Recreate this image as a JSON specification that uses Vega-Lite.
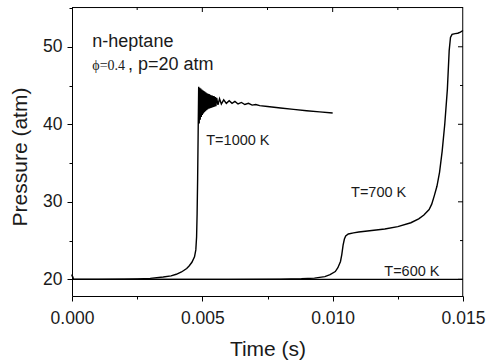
{
  "$schema": "https://vega.github.io/schema/vega-lite/v6.json",
  "width": 391,
  "height": 289,
  "autosize": {"type": "none"},
  "padding": {"left": 72, "top": 7, "right": 33, "bottom": 66},
  "background": "white",
  "config": {
    "view": {"stroke": null},
    "font": "Liberation Sans",
    "axis": {
      "grid": false,
      "domainColor": "black",
      "tickColor": "black",
      "labelColor": "#1a1a1a",
      "titleColor": "#1a1a1a",
      "labelFont": "Liberation Sans",
      "titleFont": "Liberation Sans",
      "labelFontSize": 17.5,
      "titleFontSize": 21,
      "titleFontWeight": "normal",
      "labelOverlap": false,
      "labelFlush": false
    }
  },
  "datasets": {
    "curves": [
      {"s": "600K", "t": 0, "p": 20},
      {"s": "600K", "t": 0.015, "p": 20},
      {"s": "1000K", "t": 0, "p": 20.6},
      {"s": "1000K", "t": 0.00005, "p": 20.0},
      {"s": "1000K", "t": 0.001, "p": 20.0},
      {"s": "1000K", "t": 0.002, "p": 20.03},
      {"s": "1000K", "t": 0.0025, "p": 20.06},
      {"s": "1000K", "t": 0.003, "p": 20.12},
      {"s": "1000K", "t": 0.0035, "p": 20.3},
      {"s": "1000K", "t": 0.0038, "p": 20.45},
      {"s": "1000K", "t": 0.004, "p": 20.65},
      {"s": "1000K", "t": 0.0042, "p": 20.95},
      {"s": "1000K", "t": 0.0044, "p": 21.4},
      {"s": "1000K", "t": 0.0045, "p": 21.75},
      {"s": "1000K", "t": 0.0046, "p": 22.2},
      {"s": "1000K", "t": 0.0047, "p": 22.9},
      {"s": "1000K", "t": 0.00475, "p": 23.8},
      {"s": "1000K", "t": 0.00478, "p": 25.5},
      {"s": "1000K", "t": 0.0048, "p": 28.5},
      {"s": "1000K", "t": 0.00482, "p": 33},
      {"s": "1000K", "t": 0.00484, "p": 39},
      {"s": "1000K", "t": 0.00486, "p": 44.85},
      {"s": "1000K", "t": 0.00488, "p": 40.1},
      {"s": "1000K", "t": 0.0049, "p": 44.7},
      {"s": "1000K", "t": 0.00492, "p": 40.6},
      {"s": "1000K", "t": 0.00494, "p": 44.6},
      {"s": "1000K", "t": 0.00496, "p": 40.95},
      {"s": "1000K", "t": 0.00498, "p": 44.5},
      {"s": "1000K", "t": 0.005, "p": 41.2},
      {"s": "1000K", "t": 0.00502, "p": 44.4},
      {"s": "1000K", "t": 0.00504, "p": 41.4},
      {"s": "1000K", "t": 0.00506, "p": 44.3},
      {"s": "1000K", "t": 0.00508, "p": 41.55},
      {"s": "1000K", "t": 0.0051, "p": 44.2},
      {"s": "1000K", "t": 0.00512, "p": 41.7},
      {"s": "1000K", "t": 0.00514, "p": 44.1},
      {"s": "1000K", "t": 0.00516, "p": 41.8},
      {"s": "1000K", "t": 0.00518, "p": 44.0},
      {"s": "1000K", "t": 0.0052, "p": 41.9},
      {"s": "1000K", "t": 0.00522, "p": 43.95},
      {"s": "1000K", "t": 0.00524, "p": 42.0},
      {"s": "1000K", "t": 0.00526, "p": 43.9},
      {"s": "1000K", "t": 0.00528, "p": 42.05},
      {"s": "1000K", "t": 0.0053, "p": 43.8},
      {"s": "1000K", "t": 0.00532, "p": 42.1},
      {"s": "1000K", "t": 0.00534, "p": 43.75},
      {"s": "1000K", "t": 0.00536, "p": 42.15},
      {"s": "1000K", "t": 0.00538, "p": 43.7},
      {"s": "1000K", "t": 0.0054, "p": 42.2},
      {"s": "1000K", "t": 0.00542, "p": 43.65},
      {"s": "1000K", "t": 0.00544, "p": 42.25},
      {"s": "1000K", "t": 0.00546, "p": 43.6},
      {"s": "1000K", "t": 0.00548, "p": 42.3},
      {"s": "1000K", "t": 0.0055, "p": 43.5},
      {"s": "1000K", "t": 0.00552, "p": 42.35},
      {"s": "1000K", "t": 0.00555, "p": 43.4},
      {"s": "1000K", "t": 0.0056, "p": 42.5},
      {"s": "1000K", "t": 0.00566, "p": 43.3},
      {"s": "1000K", "t": 0.00573, "p": 42.6},
      {"s": "1000K", "t": 0.00582, "p": 43.15},
      {"s": "1000K", "t": 0.00592, "p": 42.7},
      {"s": "1000K", "t": 0.00603, "p": 43.05},
      {"s": "1000K", "t": 0.00614, "p": 42.7},
      {"s": "1000K", "t": 0.00625, "p": 42.95},
      {"s": "1000K", "t": 0.00637, "p": 42.62},
      {"s": "1000K", "t": 0.0065, "p": 42.82},
      {"s": "1000K", "t": 0.00663, "p": 42.55},
      {"s": "1000K", "t": 0.00677, "p": 42.7},
      {"s": "1000K", "t": 0.00691, "p": 42.47},
      {"s": "1000K", "t": 0.00705, "p": 42.55},
      {"s": "1000K", "t": 0.0072, "p": 42.4},
      {"s": "1000K", "t": 0.0075, "p": 42.3},
      {"s": "1000K", "t": 0.008, "p": 42.1},
      {"s": "1000K", "t": 0.0085, "p": 41.92},
      {"s": "1000K", "t": 0.009, "p": 41.75},
      {"s": "1000K", "t": 0.0095, "p": 41.6},
      {"s": "1000K", "t": 0.01, "p": 41.45},
      {"s": "700K", "t": 0, "p": 20.6},
      {"s": "700K", "t": 0.00005, "p": 20.0},
      {"s": "700K", "t": 0.006, "p": 20.0},
      {"s": "700K", "t": 0.008, "p": 20.03},
      {"s": "700K", "t": 0.0088, "p": 20.08},
      {"s": "700K", "t": 0.0093, "p": 20.15},
      {"s": "700K", "t": 0.0097, "p": 20.35},
      {"s": "700K", "t": 0.0099, "p": 20.6},
      {"s": "700K", "t": 0.0101, "p": 21.0},
      {"s": "700K", "t": 0.0102, "p": 21.5},
      {"s": "700K", "t": 0.0103, "p": 22.3},
      {"s": "700K", "t": 0.01035, "p": 23.2},
      {"s": "700K", "t": 0.0104, "p": 24.4},
      {"s": "700K", "t": 0.01045, "p": 25.2},
      {"s": "700K", "t": 0.0105, "p": 25.6},
      {"s": "700K", "t": 0.0106, "p": 25.85},
      {"s": "700K", "t": 0.0108, "p": 26.0},
      {"s": "700K", "t": 0.011, "p": 26.1},
      {"s": "700K", "t": 0.0115, "p": 26.3},
      {"s": "700K", "t": 0.012, "p": 26.5},
      {"s": "700K", "t": 0.0125, "p": 26.8},
      {"s": "700K", "t": 0.013, "p": 27.3},
      {"s": "700K", "t": 0.0133, "p": 27.8},
      {"s": "700K", "t": 0.0135, "p": 28.3},
      {"s": "700K", "t": 0.0137, "p": 29.0},
      {"s": "700K", "t": 0.0138, "p": 29.7},
      {"s": "700K", "t": 0.0139, "p": 30.8},
      {"s": "700K", "t": 0.014, "p": 32.0},
      {"s": "700K", "t": 0.0141, "p": 33.8},
      {"s": "700K", "t": 0.0142, "p": 36.5},
      {"s": "700K", "t": 0.0143, "p": 40.0},
      {"s": "700K", "t": 0.0144, "p": 44.5},
      {"s": "700K", "t": 0.01447, "p": 49.5},
      {"s": "700K", "t": 0.01452, "p": 51.2},
      {"s": "700K", "t": 0.01458, "p": 51.6},
      {"s": "700K", "t": 0.0147, "p": 51.7},
      {"s": "700K", "t": 0.0148, "p": 51.75},
      {"s": "700K", "t": 0.0149, "p": 51.9},
      {"s": "700K", "t": 0.015, "p": 52.1}
    ],
    "labels": [
      {"text": "n-heptane", "t": 0.00078, "p": 50.0},
      {"text": "ϕ=0.4", "t": 0.00078, "p": 47.0},
      {"text": ", p=20 atm", "t": 0.00215, "p": 47.0},
      {"text": "T=1000 K", "t": 0.00515, "p": 37.33},
      {"text": "T=700 K", "t": 0.010705, "p": 30.58},
      {"text": "T=600 K", "t": 0.01198, "p": 20.43}
    ],
    "frame": [
      {"e": "top", "t": 0, "p": 55.06},
      {"e": "top", "t": 0.015, "p": 55.06},
      {"e": "right", "t": 0.01499, "p": 17.85},
      {"e": "right", "t": 0.01499, "p": 55.13}
    ],
    "xmajor": [{"t": 0.005}, {"t": 0.01}],
    "xminor": [{"t": 0.0025}, {"t": 0.0075}, {"t": 0.0125}],
    "ymajor": [{"p": 20}, {"p": 30}, {"p": 40}, {"p": 50}],
    "yminor": [{"p": 25}, {"p": 35}, {"p": 45}]
  },
  "resolve": {"axis": {"x": "independent", "y": "independent"}},
  "layer": [
    {
      "data": {"name": "curves"},
      "mark": {"type": "line", "color": "black", "strokeWidth": 1.4},
      "encoding": {
        "x": {
          "field": "t", "type": "quantitative",
          "scale": {"domain": [0, 0.015], "nice": false, "zero": false},
          "axis": {
            "orient": "bottom",
            "values": [0, 0.0025, 0.005, 0.0075, 0.01, 0.0125, 0.015],
            "labelExpr": "abs(datum.value*200 - round(datum.value*200)) < 1e-6 ? format(datum.value, '.3f') : ''",
            "tickSize": {"condition": {"test": "abs(datum.value*200 - round(datum.value*200)) < 1e-6", "value": 5}, "value": 3},
            "labelBaseline": "alphabetic",
            "labelPadding": 22,
            "title": "Time (s)",
            "titleBaseline": "alphabetic",
            "titleY": 59
          }
        },
        "y": {
          "field": "p", "type": "quantitative",
          "scale": {"domain": [17.85, 55.13], "nice": false, "zero": false},
          "axis": {
            "orient": "left",
            "values": [20, 25, 30, 35, 40, 45, 50, 55],
            "labelExpr": "datum.value % 10 === 0 ? datum.label : ''",
            "tickSize": {"condition": {"test": "datum.value % 10 === 0", "value": 5}, "value": 3},
            "labelPadding": 5,
            "title": "Pressure (atm)",
            "titleAngle": -90,
            "titleBaseline": "alphabetic",
            "titleAlign": "center",
            "titleX": -45.5,
            "titleY": 149.5
          }
        },
        "detail": {"field": "s"}
      }
    },
    {
      "data": {"name": "frame"},
      "mark": {"type": "line", "color": "black", "strokeWidth": 1},
      "encoding": {
        "x": {"field": "t", "type": "quantitative", "axis": null},
        "y": {"field": "p", "type": "quantitative", "axis": null},
        "detail": {"field": "e"},
        "order": {"field": "p"}
      }
    },
    {
      "data": {"name": "xmajor"},
      "mark": {"type": "tick", "color": "black", "orient": "vertical", "thickness": 1, "size": 5, "yOffset": 2.5, "opacity": 1},
      "encoding": {
        "x": {"field": "t", "type": "quantitative", "axis": null},
        "y": {"datum": 55.13, "type": "quantitative", "axis": null}
      }
    },
    {
      "data": {"name": "xminor"},
      "mark": {"type": "tick", "color": "black", "orient": "vertical", "thickness": 1, "size": 3, "yOffset": 1.5, "opacity": 1},
      "encoding": {
        "x": {"field": "t", "type": "quantitative", "axis": null},
        "y": {"datum": 55.13, "type": "quantitative", "axis": null}
      }
    },
    {
      "data": {"name": "ymajor"},
      "mark": {"type": "tick", "color": "black", "orient": "horizontal", "thickness": 1, "size": 5, "xOffset": -2.5, "opacity": 1},
      "encoding": {
        "y": {"field": "p", "type": "quantitative", "axis": null},
        "x": {"datum": 0.015, "type": "quantitative", "axis": null}
      }
    },
    {
      "data": {"name": "yminor"},
      "mark": {"type": "tick", "color": "black", "orient": "horizontal", "thickness": 1, "size": 3, "xOffset": -1.5, "opacity": 1},
      "encoding": {
        "y": {"field": "p", "type": "quantitative", "axis": null},
        "x": {"datum": 0.015, "type": "quantitative", "axis": null}
      }
    },
    {
      "data": {"name": "labels"},
      "transform": [{"filter": "indexof(datum.text, 'T=') === 0"}],
      "mark": {"type": "text", "align": "left", "baseline": "alphabetic", "font": "Liberation Sans", "fontSize": 14.5, "color": "#1a1a1a"},
      "encoding": {
        "x": {"field": "t", "type": "quantitative", "axis": null},
        "y": {"field": "p", "type": "quantitative", "axis": null},
        "text": {"field": "text"}
      }
    },
    {
      "data": {"name": "labels"},
      "transform": [{"filter": "datum.text === 'n-heptane' || datum.text === ', p=20 atm'"}],
      "mark": {"type": "text", "align": "left", "baseline": "alphabetic", "font": "Liberation Sans", "fontSize": 18, "color": "#1a1a1a"},
      "encoding": {
        "x": {"field": "t", "type": "quantitative", "axis": null},
        "y": {"field": "p", "type": "quantitative", "axis": null},
        "text": {"field": "text"}
      }
    },
    {
      "data": {"name": "labels"},
      "transform": [{"filter": "datum.text === 'ϕ=0.4'"}],
      "mark": {"type": "text", "align": "left", "baseline": "alphabetic", "font": "Liberation Serif", "fontSize": 14, "color": "#1a1a1a"},
      "encoding": {
        "x": {"field": "t", "type": "quantitative", "axis": null},
        "y": {"field": "p", "type": "quantitative", "axis": null},
        "text": {"field": "text"}
      }
    }
  ]
}
